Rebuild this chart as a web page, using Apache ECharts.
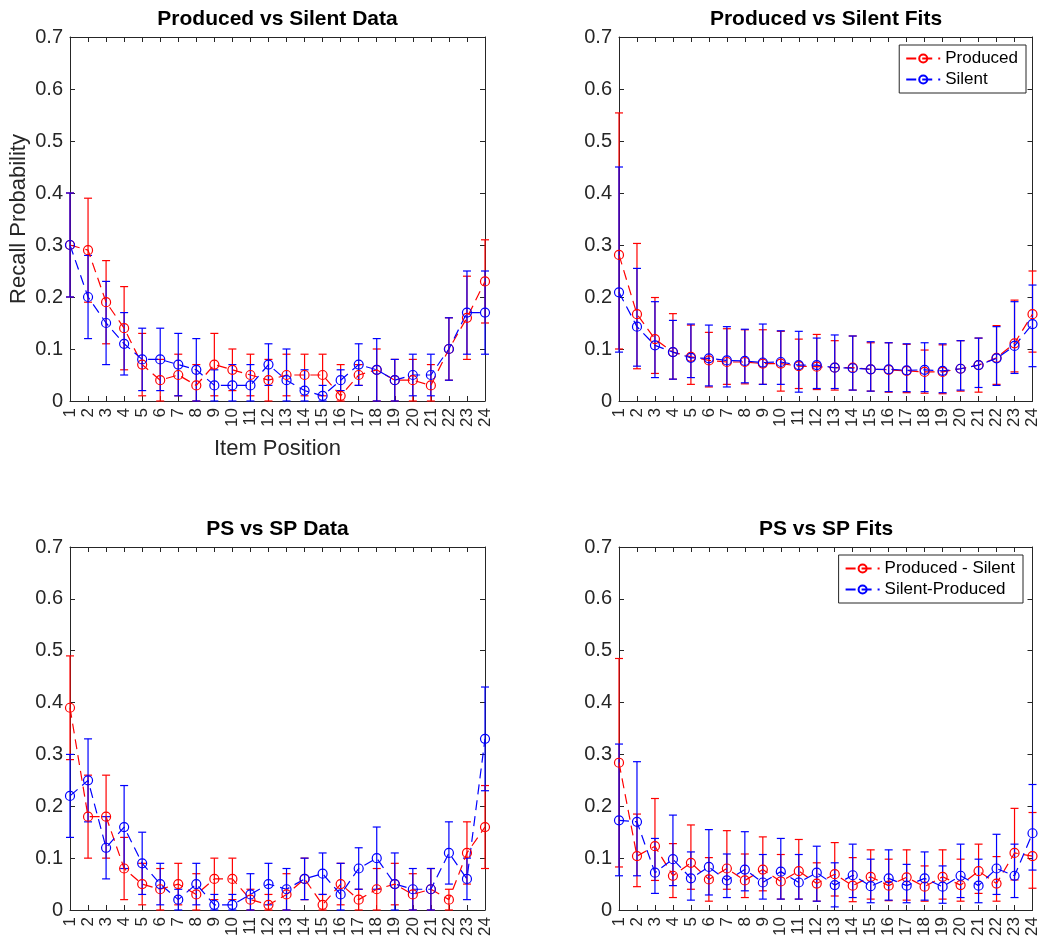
<!DOCTYPE html>
<html>
<head>
<meta charset="utf-8">
<title>Produced vs Silent</title>
<script src="https://cdn.jsdelivr.net/npm/echarts@6/dist/echarts.min.js"></script>
<style>
  html, body { margin: 0; padding: 0; background: #fff; }
  #chart { width: 1041px; height: 942px; }
</style>
</head>
<body>
<div id="chart"></div>
<script>
// item positions / tick labels on the x axis
const positions = [1, 2, 3, 4, 5, 6, 7, 8, 9, 10, 11, 12, 13, 14, 15, 16, 17, 18, 19, 20, 21, 22, 23, 24]

// panel 1: Produced vs Silent Data
const p1Prod   = [0.30, 0.29, 0.19, 0.14, 0.07, 0.04, 0.05, 0.03, 0.07, 0.06, 0.05, 0.04, 0.05, 0.05, 0.05, 0.01, 0.05, 0.06, 0.04, 0.04, 0.03, 0.10, 0.16, 0.23]
const p1ProdLo = [0.20, 0.19, 0.11, 0.06, 0.01, 0.00, 0.01, 0.00, 0.01, 0.02, 0.01, 0.00, 0.01, 0.01, 0.01, 0.00, 0.03, 0.00, 0.00, 0.00, 0.00, 0.04, 0.08, 0.15]
const p1ProdHi = [0.40, 0.39, 0.27, 0.22, 0.13, 0.08, 0.09, 0.07, 0.13, 0.10, 0.09, 0.08, 0.09, 0.09, 0.09, 0.07, 0.07, 0.10, 0.08, 0.08, 0.07, 0.16, 0.24, 0.31]
const p1Sil    = [0.30, 0.20, 0.15, 0.11, 0.08, 0.08, 0.07, 0.06, 0.03, 0.03, 0.03, 0.07, 0.04, 0.02, 0.01, 0.04, 0.07, 0.06, 0.04, 0.05, 0.05, 0.10, 0.17, 0.17]
const p1SilLo  = [0.20, 0.12, 0.07, 0.05, 0.02, 0.02, 0.01, 0.00, 0.00, 0.00, 0.00, 0.03, 0.00, 0.00, 0.00, 0.02, 0.03, 0.00, 0.00, 0.01, 0.01, 0.04, 0.09, 0.09]
const p1SilHi  = [0.40, 0.28, 0.23, 0.17, 0.14, 0.14, 0.13, 0.12, 0.06, 0.07, 0.07, 0.11, 0.10, 0.06, 0.03, 0.06, 0.11, 0.12, 0.08, 0.09, 0.09, 0.16, 0.25, 0.25]

// panel 2: Produced vs Silent Fits
const p2Prod   = [0.281, 0.167, 0.119, 0.094, 0.085, 0.078, 0.075, 0.075, 0.072, 0.072, 0.067, 0.066, 0.064, 0.064, 0.061, 0.060, 0.058, 0.056, 0.056, 0.062, 0.069, 0.083, 0.111, 0.167]
const p2ProdLo = [0.100, 0.062, 0.053, 0.042, 0.032, 0.027, 0.032, 0.033, 0.032, 0.019, 0.024, 0.022, 0.021, 0.021, 0.019, 0.017, 0.016, 0.015, 0.014, 0.019, 0.017, 0.032, 0.056, 0.094]
const p2ProdHi = [0.554, 0.303, 0.199, 0.168, 0.146, 0.132, 0.139, 0.137, 0.137, 0.134, 0.119, 0.128, 0.116, 0.125, 0.112, 0.112, 0.109, 0.098, 0.108, 0.116, 0.121, 0.145, 0.194, 0.250]
const p2Sil    = [0.209, 0.143, 0.107, 0.094, 0.083, 0.082, 0.078, 0.077, 0.074, 0.075, 0.069, 0.069, 0.064, 0.063, 0.061, 0.061, 0.059, 0.060, 0.058, 0.062, 0.069, 0.082, 0.106, 0.148]
const p2SilLo  = [0.094, 0.067, 0.045, 0.042, 0.045, 0.029, 0.027, 0.035, 0.032, 0.032, 0.017, 0.024, 0.024, 0.021, 0.019, 0.018, 0.018, 0.018, 0.016, 0.021, 0.026, 0.030, 0.053, 0.066]
const p2SilHi  = [0.450, 0.255, 0.191, 0.155, 0.148, 0.146, 0.143, 0.138, 0.148, 0.135, 0.134, 0.121, 0.127, 0.125, 0.114, 0.112, 0.110, 0.112, 0.110, 0.116, 0.121, 0.143, 0.191, 0.223]

// panel 3: PS vs SP Data
const p3PS     = [0.39, 0.18, 0.18, 0.08, 0.05, 0.04, 0.05, 0.03, 0.06, 0.06, 0.02, 0.01, 0.03, 0.06, 0.01, 0.05, 0.02, 0.04, 0.05, 0.03, 0.04, 0.02, 0.11, 0.16]
const p3PSLo   = [0.29, 0.10, 0.10, 0.02, 0.01, 0.00, 0.01, 0.00, 0.02, 0.02, 0.00, 0.00, 0.00, 0.02, 0.00, 0.01, 0.00, 0.00, 0.01, 0.00, 0.00, 0.00, 0.05, 0.08]
const p3PSHi   = [0.49, 0.26, 0.26, 0.14, 0.09, 0.08, 0.09, 0.07, 0.10, 0.10, 0.04, 0.03, 0.07, 0.10, 0.03, 0.09, 0.04, 0.08, 0.09, 0.07, 0.08, 0.04, 0.17, 0.24]
const p3SP     = [0.22, 0.25, 0.12, 0.16, 0.09, 0.05, 0.02, 0.05, 0.01, 0.01, 0.03, 0.05, 0.04, 0.06, 0.07, 0.03, 0.08, 0.10, 0.05, 0.04, 0.04, 0.11, 0.06, 0.33]
const p3SPLo   = [0.14, 0.17, 0.06, 0.08, 0.03, 0.01, 0.00, 0.01, 0.00, 0.00, 0.00, 0.01, 0.00, 0.02, 0.03, 0.00, 0.04, 0.04, 0.00, 0.00, 0.00, 0.05, 0.02, 0.23]
const p3SPHi   = [0.30, 0.33, 0.18, 0.24, 0.15, 0.09, 0.04, 0.09, 0.03, 0.03, 0.07, 0.09, 0.08, 0.10, 0.11, 0.09, 0.12, 0.16, 0.11, 0.08, 0.08, 0.17, 0.10, 0.43]

// panel 4: PS vs SP Fits
const p4PS     = [0.284, 0.104, 0.123, 0.066, 0.091, 0.059, 0.080, 0.057, 0.078, 0.055, 0.075, 0.051, 0.069, 0.047, 0.064, 0.047, 0.063, 0.045, 0.064, 0.048, 0.075, 0.051, 0.110, 0.104]
const p4PSLo   = [0.083, 0.045, 0.057, 0.024, 0.040, 0.017, 0.040, 0.024, 0.037, 0.021, 0.021, 0.017, 0.027, 0.016, 0.021, 0.018, 0.019, 0.017, 0.021, 0.017, 0.032, 0.017, 0.058, 0.042]
const p4PSHi   = [0.485, 0.185, 0.215, 0.128, 0.164, 0.101, 0.153, 0.108, 0.141, 0.107, 0.136, 0.091, 0.130, 0.101, 0.116, 0.098, 0.116, 0.085, 0.116, 0.098, 0.127, 0.103, 0.196, 0.188]
const p4SP     = [0.173, 0.170, 0.072, 0.098, 0.061, 0.083, 0.057, 0.078, 0.053, 0.074, 0.053, 0.072, 0.048, 0.067, 0.046, 0.061, 0.047, 0.061, 0.045, 0.066, 0.047, 0.080, 0.066, 0.148]
const p4SPLo   = [0.066, 0.066, 0.032, 0.047, 0.019, 0.029, 0.024, 0.037, 0.021, 0.021, 0.021, 0.017, 0.006, 0.024, 0.014, 0.019, 0.014, 0.019, 0.013, 0.024, 0.014, 0.030, 0.024, 0.077]
const p4SPHi   = [0.320, 0.286, 0.138, 0.183, 0.112, 0.155, 0.108, 0.151, 0.107, 0.138, 0.107, 0.123, 0.091, 0.127, 0.098, 0.116, 0.088, 0.112, 0.085, 0.127, 0.098, 0.146, 0.127, 0.242]

const titles = ['Produced vs Silent Data', 'Produced vs Silent Fits', 'PS vs SP Data', 'PS vs SP Fits']

const FONT = '"Liberation Sans", Arial, Helvetica, sans-serif'
const AXIS = '#262626'
const RED = '#ff0000'
const BLUE = '#0000ff'

// plot boxes, same place as in the matlab figure
const grids = [
  { left: 70, top: 37, width: 415, height: 364 },
  { left: 619, top: 37, width: 414, height: 364 },
  { left: 70, top: 547, width: 415, height: 363 },
  { left: 619, top: 547, width: 414, height: 363 }
]

let xAxes = []
let yAxes = []
grids.forEach((g, i) => {
  // bottom + top x axis (box on)
  xAxes.push({
    type: 'value', gridIndex: i, min: 1, max: 24, interval: 1, position: 'bottom',
    name: i === 0 ? 'Item Position' : '',
    nameLocation: 'middle', nameGap: 37,
    nameTextStyle: { fontSize: 22, color: AXIS, fontFamily: FONT },
    axisLine: { onZero: false, lineStyle: { color: AXIS, width: 1 } },
    axisTick: { inside: true, length: 5, lineStyle: { color: AXIS } },
    axisLabel: { rotate: 90, fontSize: 17, margin: 7, color: AXIS, fontFamily: FONT },
    splitLine: { show: false }
  })
  xAxes.push({
    type: 'value', gridIndex: i, min: 1, max: 24, interval: 1, position: 'top',
    axisLine: { onZero: false, lineStyle: { color: AXIS, width: 1 } },
    axisTick: { inside: true, length: 5, lineStyle: { color: AXIS } },
    axisLabel: { show: false },
    splitLine: { show: false }
  })
  // left + right y axis
  yAxes.push({
    type: 'value', gridIndex: i, min: 0, max: 0.7, interval: 0.1, position: 'left',
    name: i === 0 ? 'Recall Probability' : '',
    nameLocation: 'middle', nameGap: 40,
    nameTextStyle: { fontSize: 22, color: AXIS, fontFamily: FONT },
    axisLine: { show: true, onZero: false, lineStyle: { color: AXIS, width: 1 } },
    axisTick: { show: true, inside: true, length: 5, lineStyle: { color: AXIS } },
    axisLabel: { fontSize: 20, margin: 7, color: AXIS, fontFamily: FONT,
      formatter: v => (v === 0 ? '0' : v.toFixed(1)) },
    splitLine: { show: false }
  })
  yAxes.push({
    type: 'value', gridIndex: i, min: 0, max: 0.7, interval: 0.1, position: 'right',
    axisLine: { show: true, onZero: false, lineStyle: { color: AXIS, width: 1 } },
    axisTick: { show: true, inside: true, length: 5, lineStyle: { color: AXIS } },
    axisLabel: { show: false },
    splitLine: { show: false }
  })
})

// vertical error bars with caps
function errorSeries(name, panel, lo, hi, color) {
  return {
    name: name + ' err',
    type: 'custom',
    xAxisIndex: panel * 2,
    yAxisIndex: panel * 2,
    clip: false,
    silent: true,
    data: positions.map((x, i) => [x, lo[i], hi[i]]),
    encode: { x: 0, y: [1, 2] },
    renderItem: function (params, api) {
      const x = api.value(0)
      const a = api.coord([x, api.value(1)])
      const b = api.coord([x, api.value(2)])
      const h = 4
      const style = { stroke: color, lineWidth: 1.2 }
      return {
        type: 'group',
        children: [
          { type: 'line', shape: { x1: a[0], y1: a[1], x2: b[0], y2: b[1] }, style: style },
          { type: 'line', shape: { x1: b[0] - h, y1: b[1], x2: b[0] + h, y2: b[1] }, style: style },
          { type: 'line', shape: { x1: a[0] - h, y1: a[1], x2: a[0] + h, y2: a[1] }, style: style }
        ]
      }
    }
  }
}

function lineSeries(name, panel, vals, color) {
  return {
    name: name,
    type: 'line',
    xAxisIndex: panel * 2,
    yAxisIndex: panel * 2,
    data: positions.map((x, i) => [x, vals[i]]),
    symbol: 'circle',
    symbolSize: 9,
    showSymbol: true,
    clip: false,
    lineStyle: { color: color, width: 1.2, type: [10, 6] },
    itemStyle: { color: 'rgba(255,255,255,0)', borderColor: color, borderWidth: 1.2 },
    emphasis: { disabled: true }
  }
}

const panels = [
  [['Produced', p1Prod, p1ProdLo, p1ProdHi], ['Silent', p1Sil, p1SilLo, p1SilHi]],
  [['Produced', p2Prod, p2ProdLo, p2ProdHi], ['Silent', p2Sil, p2SilLo, p2SilHi]],
  [['Produced - Silent', p3PS, p3PSLo, p3PSHi], ['Silent-Produced', p3SP, p3SPLo, p3SPHi]],
  [['Produced - Silent', p4PS, p4PSLo, p4PSHi], ['Silent-Produced', p4SP, p4SPLo, p4SPHi]]
]

let series = []
panels.forEach((p, i) => {
  const colors = [RED, BLUE]
  p.forEach((s, k) => {
    series.push(errorSeries(s[0], i, s[2], s[3], colors[k]))
    series.push(lineSeries(s[0], i, s[1], colors[k]))
  })
})

const legendBase = {
  orient: 'vertical',
  selectedMode: false,
  backgroundColor: '#fff',
  borderColor: AXIS,
  borderWidth: 1,
  padding: [5, 8, 5, 6],
  itemGap: 4,
  itemWidth: 34,
  itemHeight: 10,
  textStyle: { fontSize: 17, color: '#000', fontFamily: FONT }
}

const chart = echarts.init(document.getElementById('chart'), null, { renderer: 'canvas' })
chart.setOption({
  animation: false,
  backgroundColor: '#fff',
  grid: grids,
  xAxis: xAxes,
  yAxis: yAxes,
  legend: [
    Object.assign({}, legendBase, { data: ['Produced', 'Silent'], right: 15, top: 45 }),
    Object.assign({}, legendBase, { data: ['Produced - Silent', 'Silent-Produced'], right: 18, top: 555 })
  ],
  graphic: titles.map((t, i) => ({
    type: 'text',
    x: grids[i].left + grids[i].width / 2,
    y: grids[i].top - 18,
    style: {
      text: t, fill: '#000', fontSize: 21, fontWeight: 'bold', fontFamily: FONT,
      align: 'center', verticalAlign: 'middle'
    }
  })),
  series: series
})
</script>
</body>
</html>
